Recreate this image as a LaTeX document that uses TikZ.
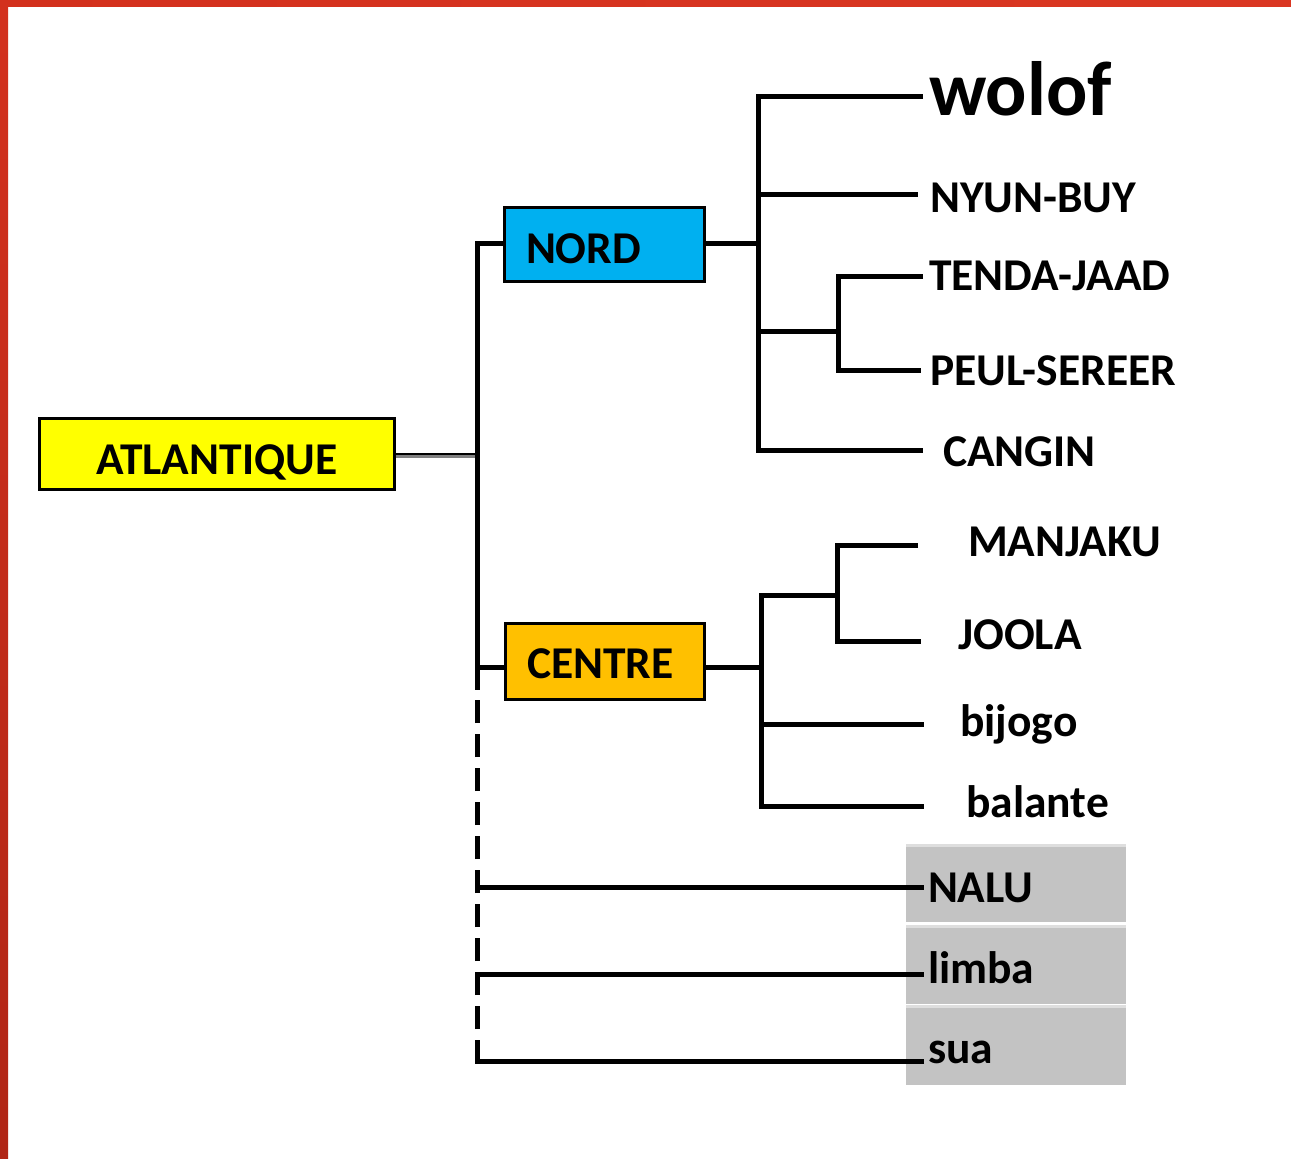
\documentclass[tikz,border=0pt]{standalone}
\usepackage{fontspec}
\setmainfont{Carlito}
\definecolor{nordblue}{HTML}{00B0F0}
\definecolor{centreorange}{HTML}{FFC000}
\definecolor{atlyellow}{HTML}{FFFF00}
\definecolor{boxgray}{HTML}{C3C3C3}
\definecolor{boxtop}{HTML}{DEDEDE}
\definecolor{linkgray}{HTML}{808080}
\definecolor{redA}{HTML}{D3301D}
\definecolor{redB}{HTML}{DA3722}
\definecolor{redC}{HTML}{E4412A}
\definecolor{redD}{HTML}{B02515}
\begin{document}
\begin{tikzpicture}[x=1pt,y=-1pt,
  conn/.style={line width=5pt, line join=miter, line cap=butt},
  lblfont/.style={font=\fontsize{45.5}{50}\selectfont\bfseries},
  lbl/.style={lblfont, anchor=base west, inner sep=0pt},
  box/.style={lblfont, draw=black, line width=3pt, inner ysep=0pt, text depth=0pt, align=left},
  graybox/.style={lblfont, fill=boxgray, inner ysep=0pt, inner xsep=22pt, text depth=0pt,
    align=left, minimum width=220pt, text width=176pt,
    path picture={\fill[boxtop] (path picture bounding box.north west) rectangle ([yshift=-3pt]path picture bounding box.north east);}}
]
\useasboundingbox (0,0) rectangle (1291,1159);
\fill[white] (0,0) rectangle (1291,1159);
\shade[left color=redA, middle color=redC, right color=redB] (0,0) rectangle (1291,6);
\shade[top color=redA, bottom color=redD] (0,0) rectangle (8,1159);

% boxes
\node[box, fill=atlyellow, minimum width=354.5pt, minimum height=71pt, text height=40pt,
      inner xsep=0pt, text width=300pt, align=center] (atl) at (216.75,454) {ATLANTIQUE};
\node[box, fill=nordblue, minimum width=200pt, minimum height=74pt, text height=37pt,
      inner xsep=21.5pt, text width=157pt] (nord) at (604.5,244.5) {NORD};
\node[box, fill=centreorange, minimum width=199pt, minimum height=76pt, text height=34pt,
      inner xsep=22pt, text width=155pt] (centre) at (604.5,661) {CENTRE};

\node[graybox, minimum height=78pt, text height=38pt] (nalu) at (1016,883) {NALU};
\node[graybox, minimum height=79pt, text height=37pt] (limba) at (1016,964.5) {limba};
\node[graybox, minimum height=80pt, text height=36pt] (sua) at (1016,1045) {sua};

% leaf labels
\node[lbl, font=\fontsize{77}{84}\selectfont\bfseries] (wolof) at (929,115) {wolof};
\node[lbl] (nyun) at (930,212) {NYUN-BUY};
\node[lbl] (tenda) at (929,290) {TENDA-JAAD};
\node[lbl] (peul) at (930,385) {PEUL-SEREER};
\node[lbl] (cangin) at (943,466) {CANGIN};
\node[lbl] (manjaku) at (968,556) {MANJAKU};
\node[lbl] (joola) at (958,649) {JOOLA};
\node[lbl] (bijogo) at (960,736) {bijogo};
\node[lbl] (balante) at (966,817) {balante};

% coordinates
\coordinate (trtop) at (477,243);
\coordinate (trmid) at (477,690);
\coordinate (trdash) at (477,1040);
\coordinate (trbot) at (477,1061);
\coordinate (cj) at (477,667);
\coordinate (nj) at (758,243);
\coordinate (ntop) at (758,96);
\coordinate (nbot) at (758,450);
\coordinate (nyj) at (758,194);
\coordinate (tpj) at (758,331);
\coordinate (tpv) at (838,331);
\coordinate (tpt) at (838,276);
\coordinate (tpb) at (838,370);
\coordinate (ccj) at (761,667);
\coordinate (ctop) at (761,595);
\coordinate (cbot) at (761,806);
\coordinate (mjv) at (837,595);
\coordinate (mjt) at (837,545);
\coordinate (mjb) at (837,641);
\coordinate (bij) at (761,724);
\coordinate (e-wolof) at (923,96);
\coordinate (e-nyun) at (918,194);
\coordinate (e-tenda) at (923,276);
\coordinate (e-peul) at (921,370);
\coordinate (e-cangin) at (923,450);
\coordinate (e-manjaku) at (918,545);
\coordinate (e-joola) at (921,641);
\coordinate (e-bijogo) at (924,724);
\coordinate (e-balante) at (924,806);
\coordinate (e-nalu) at (924,887);
\coordinate (e-limba) at (924,974);
\coordinate (e-sua) at (924,1061);

% ATLANTIQUE link
\draw[line width=3pt, linkgray] ([yshift=-2.5pt]atl.east) -- ([yshift=-2.5pt]atl.east -| trtop);
\draw[line width=2pt, black] (atl.east) -- (atl.east -| trtop);

% trunk
\draw[conn] (nord.west |- trtop) -- (trtop) -- (trmid);
\draw[conn] (cj) -- (cj -| centre.west);
\draw[conn] (e-sua) -- (trbot) -- (trdash);
\draw[conn, dash pattern=on 23pt off 11pt, dash phase=23pt] (trdash) -- (trmid);
\draw[conn] (e-nalu -| trtop) -- (e-nalu);
\draw[conn] (e-limba -| trtop) -- (e-limba);

% NORD branch
\draw[conn] (nord.east |- nj) -- (nj);
\draw[conn] (e-wolof) -- (ntop) -- (nbot) -- (e-cangin);
\draw[conn] (nyj) -- (e-nyun);
\draw[conn] (tpj) -- (tpv);
\draw[conn] (e-tenda) -- (tpt) -- (tpb) -- (e-peul);

% CENTRE branch
\draw[conn] (centre.east |- ccj) -- (ccj);
\draw[conn] (mjv) -- (ctop) -- (cbot) -- (e-balante);
\draw[conn] (e-manjaku) -- (mjt) -- (mjb) -- (e-joola);
\draw[conn] (bij) -- (e-bijogo);
\end{tikzpicture}
\end{document}
